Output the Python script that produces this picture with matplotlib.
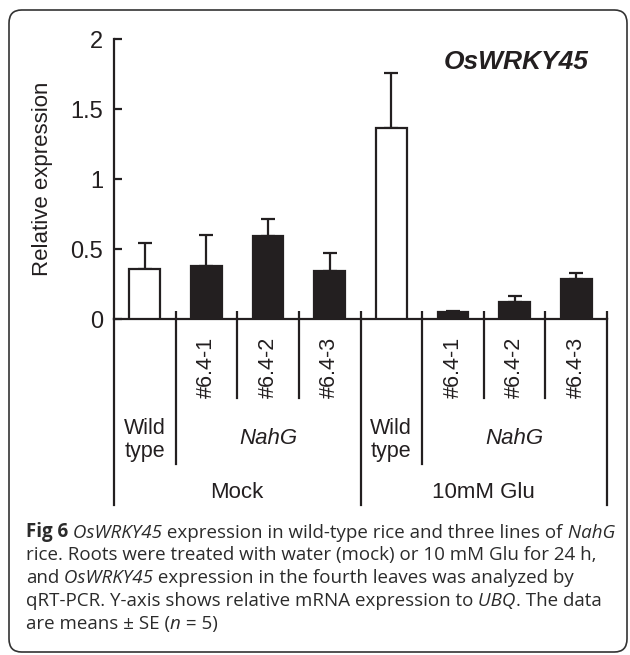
import matplotlib.pyplot as plt
from matplotlib.patches import FancyBboxPatch

# ---- data ----
treatments = ['Mock', '10mM Glu']
lines = ['Wild\ntype', '#6.4-1', '#6.4-2', '#6.4-3',
         'Wild\ntype', '#6.4-1', '#6.4-2', '#6.4-3']
expression = [0.357, 0.379, 0.593, 0.343, 1.364, 0.047, 0.120, 0.286]
se = [0.186, 0.221, 0.121, 0.128, 0.393, 0.010, 0.044, 0.043]
is_wild = [True, False, False, False, True, False, False, False]

ink = '#231f20'
W, H = 630, 655

plt.rcParams['font.family'] = ['Liberation Sans', 'DejaVu Sans']

fig = plt.figure(figsize=(W / 100, H / 100), dpi=100)


def fx(px):
    return px / W


def fy(py):
    return 1 - py / H


ax = fig.add_axes([fx(114), fy(319), fx(607) - fx(114), fy(39) - fy(319)])

x = list(range(len(lines)))
colors = ['white' if w else ink for w in is_wild]
ax.bar(x, expression, width=0.5, color=colors, edgecolor=ink,
       linewidth=1.6, zorder=3)
ax.errorbar(x, expression, yerr=[[0] * len(se), se], fmt='none',
            ecolor=ink, elinewidth=1.6, capsize=5, capthick=1.6, zorder=2)

ax.set_xlim(-0.5, 7.5)
ax.set_ylim(0, 2)
ax.set_yticks([0, 0.5, 1, 1.5, 2])
ax.set_yticklabels(['0', '0.5', '1', '1.5', '2'])
ax.set_xticks([b + 0.5 for b in range(8)])
ax.set_xticklabels([])
ax.tick_params(axis='y', direction='in', length=6, width=1.6, colors=ink,
               labelsize=17, pad=8)
ax.tick_params(axis='x', direction='in', length=6, width=1.6, colors=ink)
for s in ['top', 'right']:
    ax.spines[s].set_visible(False)
for s in ['left', 'bottom']:
    ax.spines[s].set_linewidth(1.6)
    ax.spines[s].set_color(ink)
ax.set_ylabel('Relative expression', fontsize=16, color=ink, labelpad=12)


def ypx(py):
    # pixel row below the axis -> data units (140 px per unit)
    return (319 - py) / 140


# separators of the label table below the axis
for xb in [-0.5, 3.5, 7.5]:
    ax.plot([xb, xb], [0, ypx(505)], color=ink, lw=1.6, clip_on=False)
for xb in [0.5, 4.5]:
    ax.plot([xb, xb], [0, ypx(464)], color=ink, lw=1.6, clip_on=False)
for xb in [1.5, 2.5, 5.5, 6.5]:
    ax.plot([xb, xb], [0, ypx(398)], color=ink, lw=1.6, clip_on=False)

for i, lab in enumerate(lines):
    if is_wild[i]:
        ax.text(i, ypx(440), lab, ha='center', va='center', fontsize=15.5,
                color=ink, linespacing=1.15)
    else:
        ax.text(i, ypx(367), lab, ha='center', va='center', fontsize=15.5,
                color=ink, rotation=90)
for xc in [2, 6]:
    ax.text(xc, ypx(438), 'NahG', ha='center', va='center', fontsize=16,
            fontstyle='italic', color=ink)
for xc, t in zip([1.5, 5.5], treatments):
    ax.text(xc, ypx(492), t, ha='center', va='center', fontsize=16, color=ink)

fig.text(fx(589), fy(62), 'OsWRKY45', ha='right', va='center', fontsize=19,
         fontweight='bold', fontstyle='italic', color=ink)

# rounded frame
box = FancyBboxPatch((fx(9), fy(652)), fx(627) - fx(9), fy(10) - fy(652),
                     boxstyle='round,pad=0,rounding_size=0.02',
                     transform=fig.transFigure, fill=False, ec='#333333',
                     lw=1.2)
fig.add_artist(box)

# caption, built piece by piece so italics keep their own font
caption = [
    [('Fig 6', 'b'), (' OsWRKY45', 'i'),
     (' expression in wild-type rice and three lines of', 'r'), (' NahG', 'i')],
    [('rice. Roots were treated with water (mock) or 10 mM Glu for 24 h,', 'r')],
    [('and', 'r'), (' OsWRKY45', 'i'),
     (' expression in the fourth leaves was analyzed by', 'r')],
    [('qRT-PCR. Y-axis shows relative mRNA expression to', 'r'), (' UBQ', 'i'),
     ('. The data', 'r')],
    [('are means \u00b1 SE (', 'r'), ('n', 'i'), (' = 5)', 'r')],
]
cap_kw = dict(fontsize=13.5, family='Open Sans', color='#2b2b2b')
for k, pieces in enumerate(caption):
    prev = None
    for s, st in pieces:
        kw = dict(cap_kw)
        if st == 'b':
            kw['fontweight'] = 'bold'
        elif st == 'i':
            kw['fontstyle'] = 'italic'
        if prev is None:
            prev = fig.text(fx(26), fy(532 + 23 * k), s, ha='left',
                            va='center', **kw)
        else:
            prev = ax.annotate(s, xy=(1, 0), xycoords=prev, ha='left',
                               va='bottom', annotation_clip=False, **kw)

fig.savefig('out.png', dpi=100)
